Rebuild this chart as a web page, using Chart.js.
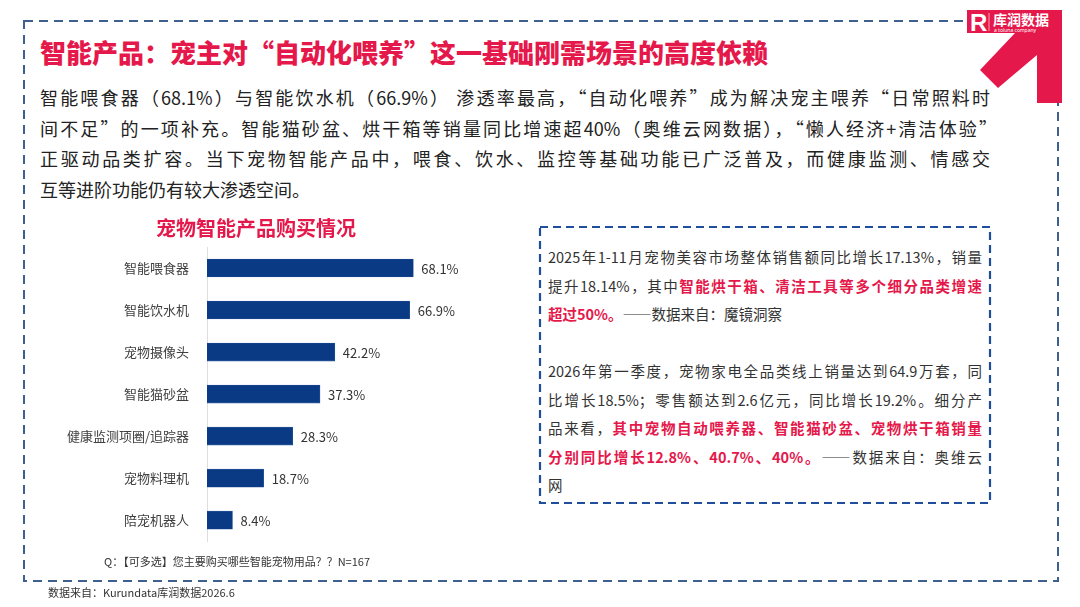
<!DOCTYPE html>
<html lang="zh">
<head>
<meta charset="UTF-8">
<title>智能产品：宠主对“自动化喂养”这一基础刚需场景的高度依赖</title>
<script src="https://cdn.jsdelivr.net/npm/chart.js@4.4.1/dist/chart.umd.min.js"></script>
<style>
    body {
        margin: 0;
        width: 1080px;
        height: 607px;
        background: #ffffff;
        font-family: "Noto Sans CJK SC", "Noto Sans", sans-serif;
        position: relative;
        overflow: hidden;
    }
    .abs { position: absolute; }
    .title {
        left: 40px;
        top: 33px;
        font-size: 26px;
        font-weight: 900;
        color: #e5184b;
        line-height: 38px;
        white-space: nowrap;
    }
    .intro {
        left: 40px;
        top: 82px;
        width: 950px;
        font-size: 18px;
        line-height: 30.5px;
        color: #222;
    }
    .intro div, .note div {
        text-align: justify;
        text-align-last: justify;
        white-space: nowrap;
    }
    .intro div.last, .note div.last { text-align-last: left; }
    .note {
        left: 548px;
        top: 243px;
        width: 434px;
        font-size: 14.5px;
        line-height: 28.5px;
        color: #333;
    }
    .note b { color: #e5184b; font-weight: 700; }
    .question {
        left: 104px;
        top: 553px;
        font-size: 11px;
        color: #333;
        white-space: nowrap;
    }
    .source {
        left: 48px;
        top: 584px;
        font-size: 11px;
        color: #333;
        white-space: nowrap;
    }
    #chartWrap {
        left: 2px;
        top: 214px;
        width: 508px;
        height: 345px;
    }
    #barChart { display: block; }
</style>
</head>
<body>
<svg class="abs" style="left:0;top:0" width="1080" height="607">
    <rect x="24" y="21" width="1034" height="560" fill="none" stroke="#3f5f8f" stroke-width="2" stroke-dasharray="9 6"></rect>
    <rect x="540" y="227" width="450" height="276" fill="none" stroke="#1f4e9a" stroke-width="2.2" stroke-dasharray="8 5"></rect>
    <!-- logo + arrow -->
    <polygon points="967,10 1062,10 1062,103 1037,103 1037,55 998,88 980,70 1015,33 967,33" fill="#e5184b"></polygon>
    <text x="970" y="31" font-family="Liberation Sans, sans-serif" font-weight="bold" font-size="24" fill="#fff">R</text>
    <line x1="989" y1="13" x2="989" y2="31" stroke="#fff" stroke-width="0.6"></line>
    <text x="993" y="25" font-family="Noto Sans CJK SC" font-weight="bold" font-size="14" fill="#fff">库润数据</text>
    <text x="994" y="31.5" font-family="Noto Sans" font-size="5" fill="#fff">a toluna company</text>
</svg>

<div class="abs title">智能产品：宠主对“自动化喂养”这一基础刚需场景的高度依赖</div>

<div class="abs intro">
    <div>智能喂食器（68.1%）与智能饮水机（66.9%） 渗透率最高，“自动化喂养”成为解决宠主喂养“日常照料时</div>
    <div style="width:957px">间不足”的一项补充。智能猫砂盆、烘干箱等销量同比增速超40%（奥维云网数据），“懒人经济+清洁体验”</div>
    <div>正驱动品类扩容。当下宠物智能产品中，喂食、饮水、监控等基础功能已广泛普及，而健康监测、情感交</div>
    <div class="last">互等进阶功能仍有较大渗透空间。</div>
</div>

<div class="abs note">
    <div>2025年1-11月宠物美容市场整体销售额同比增长17.13%，销量</div>
    <div>提升18.14%，其中<b>智能烘干箱、清洁工具等多个细分品类增速</b></div>
    <div class="last"><b>超过50%。</b>——数据来自：魔镜洞察</div>
    <div class="last">&nbsp;</div>
    <div>2026年第一季度，宠物家电全品类线上销量达到64.9万套，同</div>
    <div>比增长18.5%；零售额达到2.6亿元，同比增长19.2%。细分产</div>
    <div>品来看，<b>其中宠物自动喂养器、智能猫砂盆、宠物烘干箱销量</b></div>
    <div><b>分别同比增长12.8%、40.7%、40%。</b>——数据来自：奥维云</div>
    <div class="last">网</div>
</div>

<div class="abs" id="chartWrap"><canvas id="barChart" width="508" height="345"></canvas></div>

<div class="abs question">Q：【可多选】您主要购买哪些智能宠物用品？？N=167</div>
<div class="abs source">数据来自：Kurundata库润数据2026.6</div>

<script>
    const chartTitle = '宠物智能产品购买情况';
    const categories = ['智能喂食器', '智能饮水机', '宠物摄像头', '智能猫砂盆', '健康监测项圈/追踪器', '宠物料理机', '陪宠机器人'];
    const shares = [68.1, 66.9, 42.2, 37.3, 28.3, 18.7, 8.4];

    Chart.defaults.font.family = '"Noto Sans CJK SC", "Noto Sans", sans-serif';

    // draws the "xx.x%" label just past the end of each bar
    const valueLabels = {
        id: 'valueLabels',
        afterDatasetsDraw(chart) {
            const ctx = chart.ctx;
            const meta = chart.getDatasetMeta(0);
            ctx.save();
            ctx.font = '13px "Noto Sans CJK SC", sans-serif';
            ctx.fillStyle = '#333333';
            ctx.textAlign = 'left';
            ctx.textBaseline = 'middle';
            meta.data.forEach((bar, i) => {
                ctx.fillText(shares[i].toFixed(1) + '%', bar.x + 8, bar.y + 1);
            });
            ctx.restore();
        }
    };

    const ctx = document.getElementById('barChart').getContext('2d');
    new Chart(ctx, {
        type: 'bar',
        data: {
            labels: categories,
            datasets: [{
                data: shares,
                backgroundColor: '#0b3a85',
                borderColor: '#2c5aa0',
                borderWidth: 0.6,
                barThickness: 18
            }]
        },
        options: {
            indexAxis: 'y',
            responsive: false,
            animation: false,
            layout: { padding: 0 },
            scales: {
                x: {
                    display: false,
                    min: 0,
                    max: 100
                },
                y: {
                    grid: { display: false },
                    border: { display: true, color: '#dedede', width: 1 },
                    ticks: {
                        color: '#404040',
                        padding: 10,
                        font: { size: 13 }
                    },
                    afterFit(scale) {
                        scale.width = 205;
                    }
                }
            },
            plugins: {
                legend: { display: false },
                tooltip: { enabled: false },
                title: {
                    display: true,
                    text: chartTitle,
                    color: '#e5184b',
                    font: { size: 20, weight: 'bold' },
                    padding: { top: 2, bottom: 7 }
                }
            }
        },
        plugins: [valueLabels]
    });
</script>
</body>
</html>
